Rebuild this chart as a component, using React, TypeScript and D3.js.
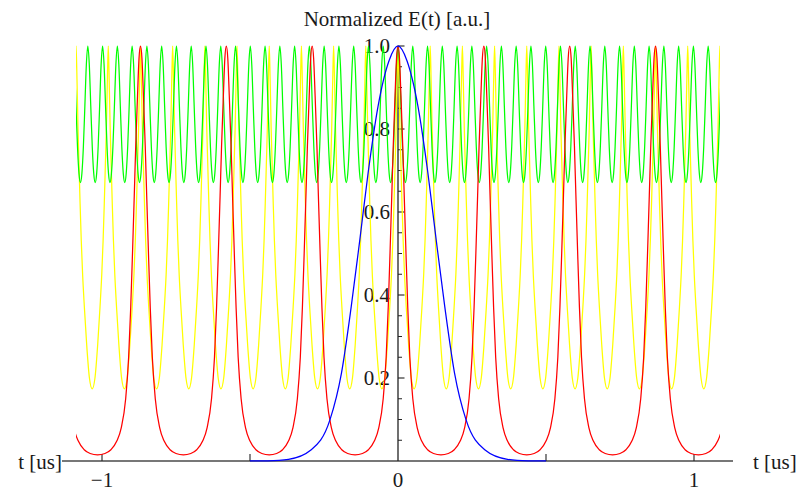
import React from "react";
import * as d3 from "d3";

// ---------- data ----------
const tDomain = [-1.0875, 1.0875];
const xTickValues = [-1, -0.5, 0.5, 1];
const xTickLabels = ["\u22121", "0", "1"];
const xLabelValues = [-1, 0, 1];
const yMajorTicks = [0.2, 0.4, 0.6, 0.8, 1.0];
const yMajorLabels = ["0.2", "0.4", "0.6", "0.8", "1.0"];
const yMinorTicks = [0.05, 0.1, 0.15, 0.25, 0.3, 0.35, 0.45, 0.5, 0.55, 0.65, 0.7, 0.75, 0.85, 0.9, 0.95];

// blue: single pulse (half profile, mirrored)
const blueOffsets = [0, 0.03, 0.0676, 0.101, 0.129, 0.158, 0.191, 0.23, 0.293, 0.37, 0.44, 0.5];
const blueValues = [1, 0.965, 0.854, 0.694, 0.533, 0.372, 0.212, 0.099, 0.027, 0.004, 0.0005, 0];

// red: pulse train
const redPeaks = [-1.16, -0.87, -0.58, -0.29, 0, 0.29, 0.58, 0.87, 1.16];
const redOffsets = [0, 0.005, 0.01, 0.016, 0.021, 0.027, 0.033, 0.04, 0.05, 0.065, 0.08, 0.1, 0.12, 0.145];
const redValues = [1, 0.97, 0.88, 0.76, 0.64, 0.5, 0.37, 0.25, 0.15, 0.08, 0.048, 0.027, 0.018, 0.0145];

// yellow: denser train, higher floor
const yellowPeaks = [
  -1.0875, -0.9788, -0.87, -0.7613, -0.6525, -0.5438, -0.435, -0.3263, -0.2175, -0.1088, 0,
  0.1088, 0.2175, 0.3263, 0.435, 0.5438, 0.6525, 0.7613, 0.87, 0.9788, 1.0875,
];
const yellowOffsets = [0, 0.003, 0.0065, 0.01, 0.0135, 0.0175, 0.022, 0.028, 0.0358, 0.045, 0.0544];
const yellowValues = [1, 0.92, 0.8, 0.71, 0.62, 0.53, 0.45, 0.37, 0.28, 0.2, 0.174];

// green: fast, shallow oscillation
const greenPeaks = [
  -1.0978, -1.0479, -0.998, -0.9481, -0.8982, -0.8483, -0.7984, -0.7485, -0.6986, -0.6487, -0.5988,
  -0.5489, -0.499, -0.4491, -0.3992, -0.3493, -0.2994, -0.2495, -0.1996, -0.1497, -0.0998, -0.0499,
  0, 0.0499, 0.0998, 0.1497, 0.1996, 0.2495, 0.2994, 0.3493, 0.3992, 0.4491, 0.499, 0.5489, 0.5988,
  0.6487, 0.6986, 0.7485, 0.7984, 0.8483, 0.8982, 0.9481, 0.998, 1.0479, 1.0978,
];
const greenOffsets = [0, 0.005, 0.01, 0.015, 0.02, 0.02495];
const greenValues = [1, 0.955, 0.855, 0.757, 0.693, 0.671];

// ---------- helpers ----------
type Pt = [number, number];

function buildTrain(peaks: number[], offsets: number[], values: number[]): Pt[] {
  const pts: Pt[] = [];
  peaks.forEach((p) => {
    offsets.forEach((o, i) => {
      pts.push([p - o, values[i]]);
      if (o !== 0) pts.push([p + o, values[i]]);
    });
  });
  pts.sort((a, b) => a[0] - b[0]);
  const out: Pt[] = [];
  pts.forEach((q) => {
    const last = out[out.length - 1];
    if (last && Math.abs(last[0] - q[0]) < 1e-6) return;
    out.push(q);
  });
  return out;
}

const W = 800;
const H = 492;
const FONT = "'Liberation Serif', 'Times New Roman', serif";
const FS = 21;

export default function App() {
  const x = d3.scaleLinear().domain([-1, 1]).range([102, 694]);
  const y = d3.scaleLinear().domain([0, 1]).range([461, 46]);

  const line = d3
    .line<Pt>()
    .x((d) => x(d[0]))
    .y((d) => y(d[1]))
    .curve(d3.curveMonotoneX);

  const blue = buildTrain([0], blueOffsets, blueValues);
  const red = buildTrain(redPeaks, redOffsets, redValues);
  const yellow = buildTrain(yellowPeaks, yellowOffsets, yellowValues);
  const green = buildTrain(greenPeaks, greenOffsets, greenValues);

  const axisColor = "#4a4a4a";
  const textColor = "#1a1a1a";

  return (
    <svg
      width={W}
      height={H}
      viewBox={`0 0 ${W} ${H}`}
      style={{ position: "absolute", left: 0, top: 0, background: "#fff" }}
    >
      <defs>
        <clipPath id="plotClip">
          <rect x={x(tDomain[0])} y={0} width={x(tDomain[1]) - x(tDomain[0])} height={H} />
        </clipPath>
      </defs>

      {/* axes */}
      <line x1={62} x2={733} y1={y(0)} y2={y(0)} stroke={axisColor} strokeWidth={1.4} />
      <line x1={x(0)} x2={x(0)} y1={y(0)} y2={y(1)} stroke="#222" strokeWidth={1.3} />

      {/* x ticks */}
      {xTickValues.map((v) => (
        <line key={"xt" + v} x1={x(v)} x2={x(v)} y1={y(0)} y2={y(0) - 7} stroke="#222" strokeWidth={1.1} />
      ))}
      {xLabelValues.map((v, i) => (
        <text key={"xl" + v} x={x(v)} y={487} textAnchor="middle" fontFamily={FONT} fontSize={FS} fill={textColor}>
          {xTickLabels[i]}
        </text>
      ))}

      {/* y ticks */}
      {yMinorTicks.map((v) => (
        <line key={"ym" + v} x1={x(0)} x2={x(0) + 4} y1={y(v)} y2={y(v)} stroke="#222" strokeWidth={1} />
      ))}
      {yMajorTicks.map((v, i) => (
        <g key={"yM" + v}>
          <line x1={x(0)} x2={x(0) + 6.5} y1={y(v)} y2={y(v)} stroke="#222" strokeWidth={1.1} />
          <text x={x(0) - 8} y={y(v) + 7} textAnchor="end" fontFamily={FONT} fontSize={FS} fill={textColor}>
            {yMajorLabels[i]}
          </text>
        </g>
      ))}

      {/* curves */}
      <g clipPath="url(#plotClip)" fill="none" strokeWidth={1.25} strokeLinejoin="round">
        <path d={line(yellow) || ""} stroke="#ffff00" />
        <path d={line(green) || ""} stroke="#00ff00" />
        <path d={line(red) || ""} stroke="#ff0000" />
        <path d={line(blue) || ""} stroke="#0000ff" />
      </g>

      {/* labels */}
      <text x={397} y={26} textAnchor="middle" fontFamily={FONT} fontSize={FS} fill={textColor}>
        Normalized E(t) [a.u.]
      </text>
      <text x={62} y={469} textAnchor="end" fontFamily={FONT} fontSize={FS} fill={textColor}>
        t [us]
      </text>
      <text x={753} y={469} textAnchor="start" fontFamily={FONT} fontSize={FS} fill={textColor}>
        t [us]
      </text>
    </svg>
  );
}
